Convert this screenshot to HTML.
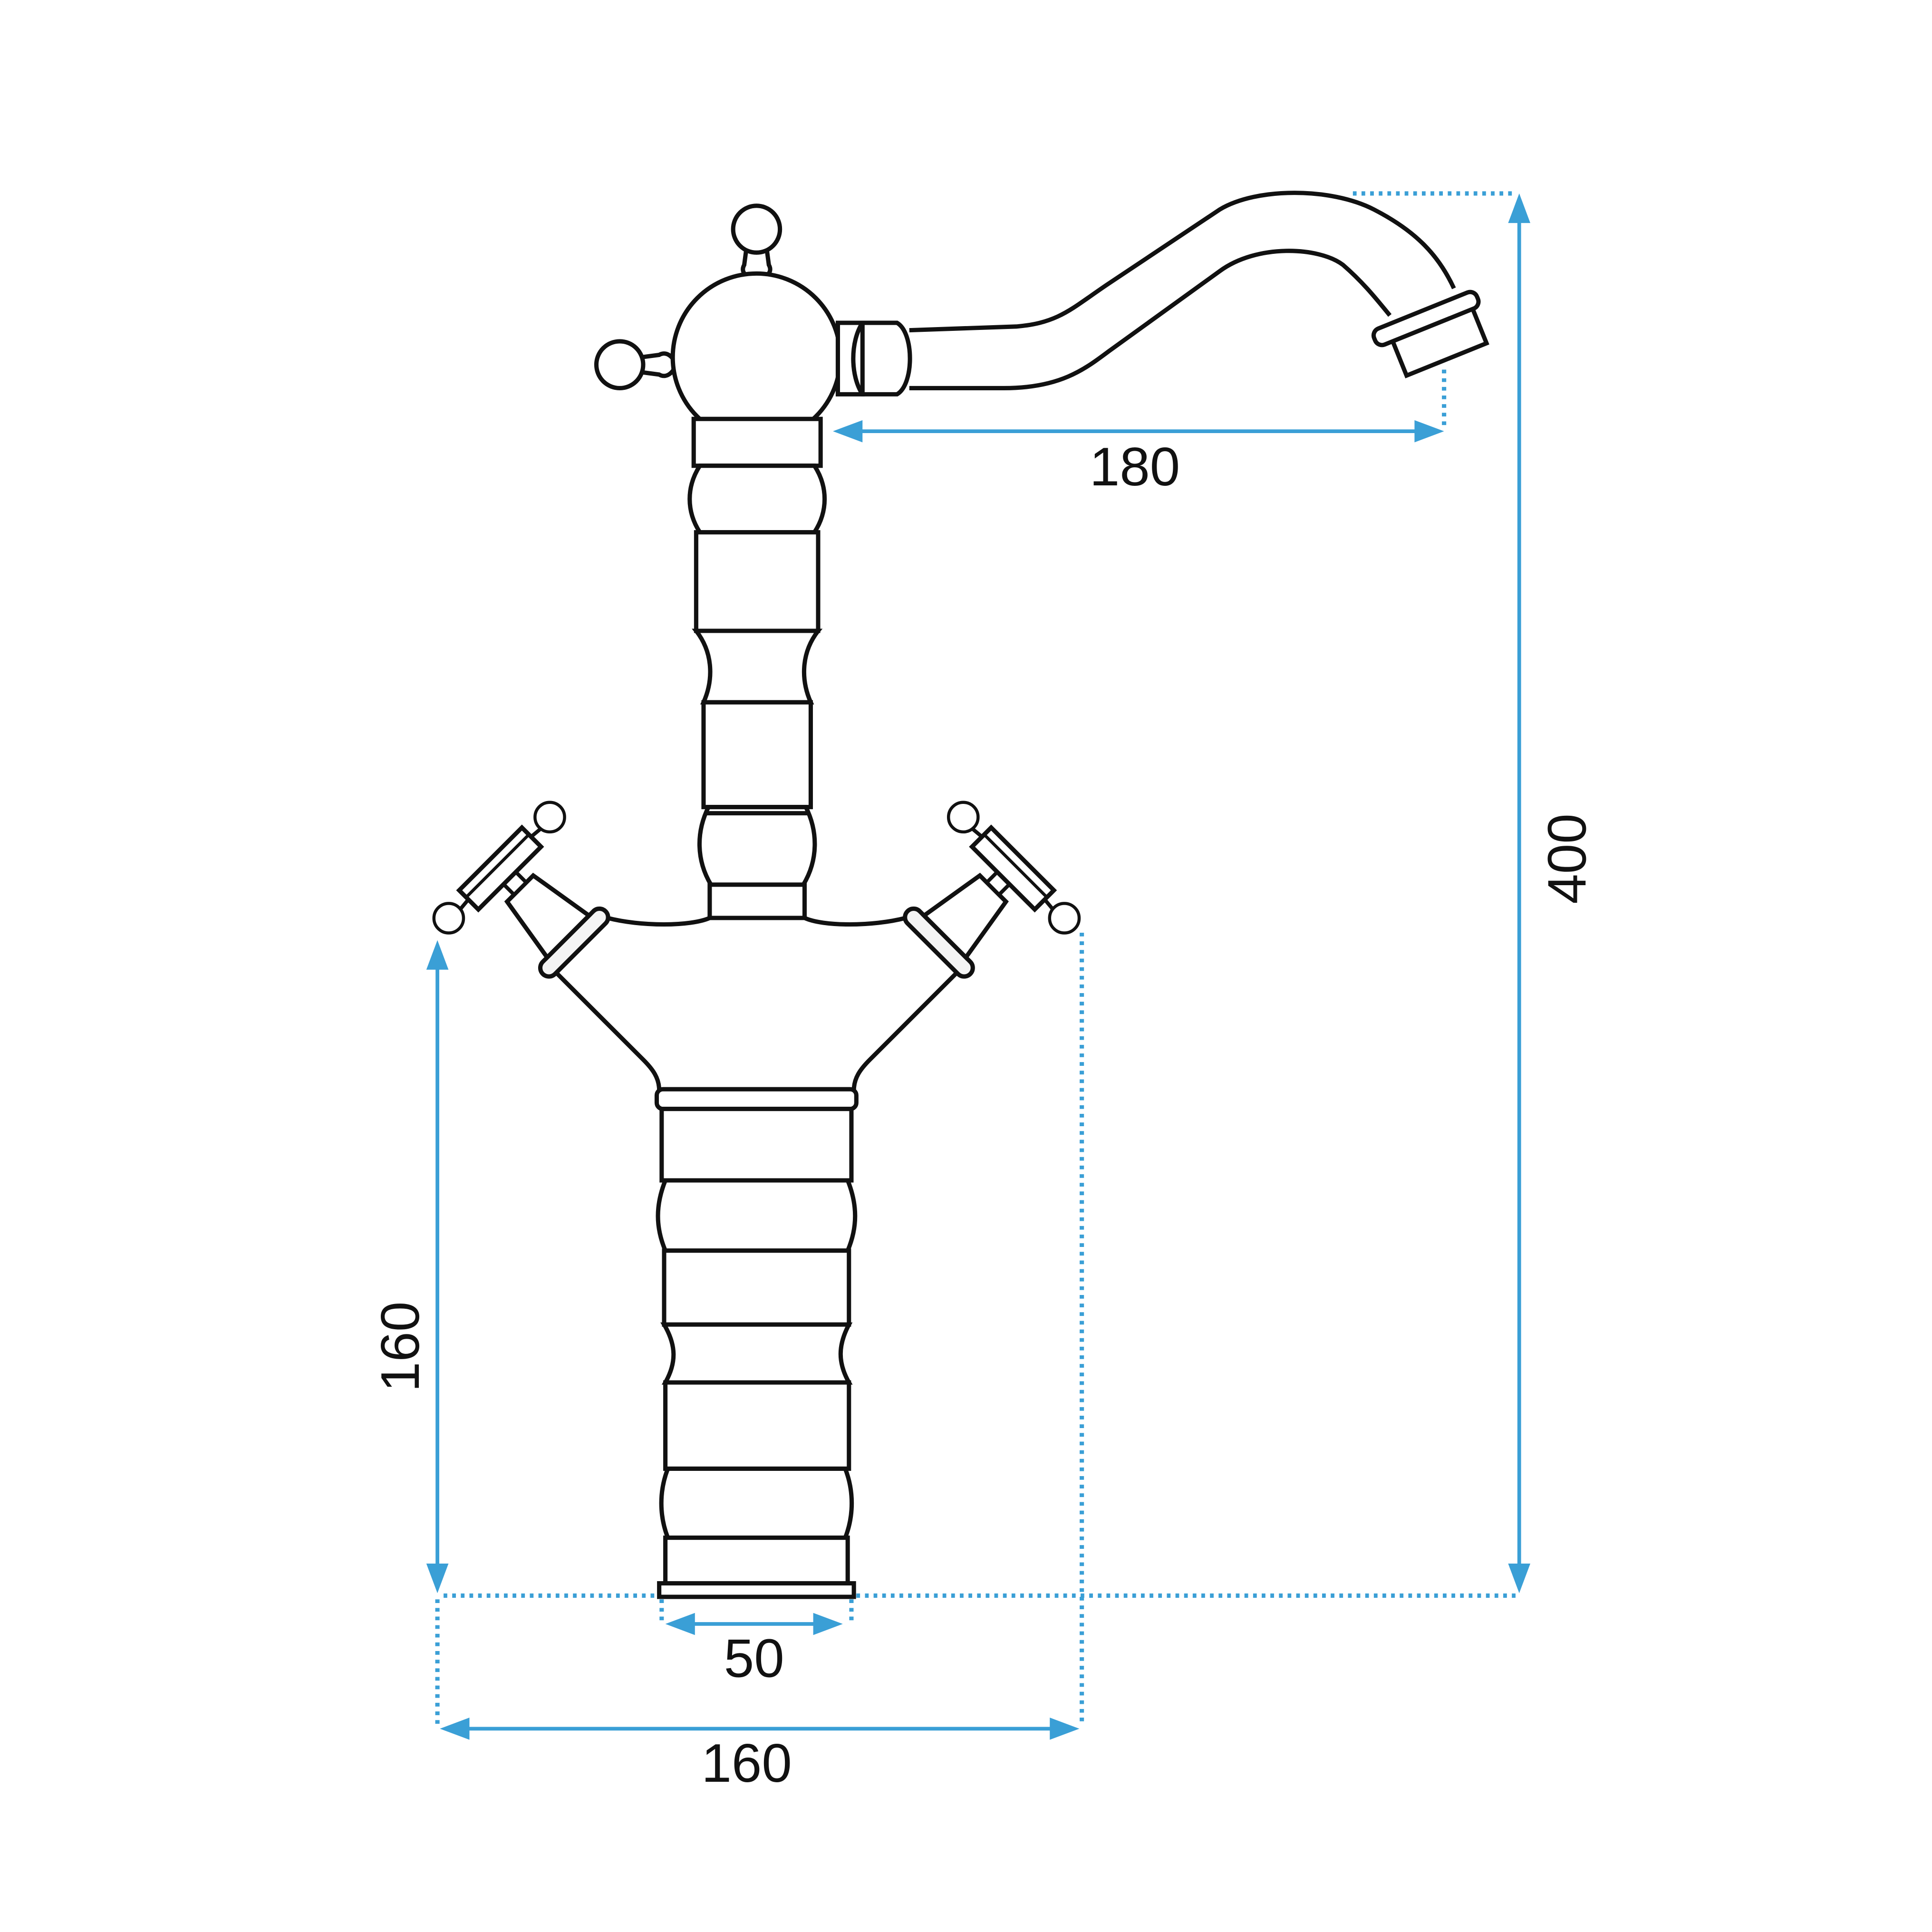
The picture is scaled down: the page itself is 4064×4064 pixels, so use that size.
<!DOCTYPE html>
<html><head><meta charset="utf-8"><style>
html,body{margin:0;padding:0;background:#fff;}
svg{display:block;}
</style></head><body>
<svg width="4064" height="4064" viewBox="0 0 1568 1568" xmlns="http://www.w3.org/2000/svg">
<rect width="1568" height="1568" fill="#fff"/>
<defs>
<g id="valve">
  <rect x="-36" y="-7" width="72" height="14" rx="7" fill="#f4f4f4" stroke="#111" stroke-width="3.5"/>
  <polygon points="-24,-7 24,-7 15,-62 -15,-62" fill="#fff" stroke="#111" stroke-width="3.5"/>
  <rect x="-7" y="-74" width="14" height="12" fill="#fff" stroke="#111" stroke-width="3"/>
  <path d="M-52,-84 L-30,-86 M52,-84 L30,-86" stroke="#111" stroke-width="3" fill="none"/>
  <circle cx="-58" cy="-86" r="12" fill="#fff" stroke="#111" stroke-width="2.5"/>
  <circle cx="58" cy="-86" r="12" fill="#fff" stroke="#111" stroke-width="2.5"/>
  <rect x="-36" y="-96" width="72" height="22" fill="#fff" stroke="#111" stroke-width="3.5"/>
  <line x1="-36" y1="-88" x2="36" y2="-88" stroke="#111" stroke-width="2.5"/>
</g>
</defs>

<!-- spout -->
<g fill="none" stroke="#111" stroke-width="3.5">
<path d="M738,268 L825,265 C860,262 870,250 900,230 L990,170 C1020,152 1080,152 1115,170 C1150,188 1168,208 1180,234"/>
<path d="M738,315 L815,315 C860,315 880,300 900,285 L990,220 C1020,198 1070,200 1090,215 C1105,228 1115,240 1128,256"/>
</g>
<g transform="translate(1160,265) rotate(-22)" stroke="#111" stroke-width="3.5" fill="#fff">
  <rect x="-32" y="-4" width="70" height="34"/>
  <rect x="-45" y="-14" width="90" height="14" rx="6"/>
</g>

<!-- top knobs -->
<g stroke="#111" stroke-width="3.5" fill="#fff">
  <path d="M606,200 L604,215 C600,222 608,226 614,226 C620,226 628,222 624,215 L622,200 Z"/>
  <circle cx="614" cy="186" r="19"/>
  <path d="M520,290 L535,288 C542,284 548,292 548,296 C548,300 542,308 535,304 L520,302 Z"/>
  <circle cx="503" cy="296" r="19"/>
  <circle cx="614" cy="290" r="68"/>
  <rect x="680" y="262" width="20" height="58"/>
  <path d="M700,262 L728,262 C742,270 742,312 728,320 L700,320 C690,305 690,277 700,262 Z"/>
  <line x1="700" y1="262" x2="700" y2="320"/>
</g>

<!-- column -->
<g stroke="#111" stroke-width="3.5" fill="#fff">
  <rect x="563" y="340" width="103" height="38"/>
  <path d="M568,378 L661,378 C672,395 672,415 661,432 L568,432 C557,415 557,395 568,378 Z"/>
  <rect x="565" y="432" width="99" height="80"/>
  <path d="M565,512 L664,512 C650,530 650,552 658,570 L571,570 C579,552 579,530 565,512 Z"/>
  <rect x="571" y="570" width="87" height="85"/>
  <path d="M575,655 L654,655 C664,675 664,698 652,718 L577,718 C565,698 565,675 575,655 Z"/>
  <rect x="576" y="718" width="77" height="27"/>
  <line x1="573" y1="660" x2="656" y2="660"/>
</g>

<!-- body -->
<g stroke="#111" stroke-width="3.5" fill="none">
  <path d="M493,745 C520,752 560,752 576,745"/>
  <path d="M735,745 C708,752 668,752 653,745"/>
  <path d="M452,790 L522,860 C530,868 535,875 535,885"/>
  <path d="M776,790 L706,860 C698,868 693,875 693,885"/>
</g>
<use href="#valve" transform="translate(466,765) rotate(-45)"/>
<use href="#valve" transform="translate(762,765) rotate(45) scale(-1,1)"/>

<!-- lower body -->
<g stroke="#111" stroke-width="3.5" fill="#fff">
  <rect x="533" y="884" width="162" height="16" rx="5"/>
  <rect x="537" y="900" width="154" height="58"/>
  <path d="M540,958 L688,958 C696,978 696,996 688,1015 L540,1015 C532,996 532,978 540,958 Z"/>
  <rect x="539" y="1015" width="150" height="60"/>
  <path d="M539,1075 L689,1075 C680,1092 680,1106 689,1122 L540,1122 C549,1106 549,1092 539,1075 Z"/>
  <rect x="540" y="1122" width="149" height="70"/>
  <path d="M542,1192 L686,1192 C693,1210 693,1230 686,1248 L542,1248 C535,1230 535,1210 542,1192 Z"/>
  <rect x="540" y="1248" width="148" height="37"/>
  <rect x="535" y="1285" width="158" height="11"/>
</g>

<!-- dimensions -->
<g stroke="#3a9fd6" stroke-width="3" fill="none">
  <line x1="690" y1="350" x2="1158" y2="350"/>
  <line x1="1233" y1="172" x2="1233" y2="1278"/>
  <line x1="355" y1="778" x2="355" y2="1278"/>
  <line x1="372" y1="1403" x2="860" y2="1403"/>
  <line x1="556" y1="1318" x2="668" y2="1318"/>
</g>
<g stroke="#3a9fd6" stroke-width="3.5" fill="none" stroke-dasharray="3 4">
  <line x1="1172" y1="300" x2="1172" y2="345"/>
  <line x1="1098" y1="157" x2="1228" y2="157"/>
  <line x1="360" y1="1295" x2="535" y2="1295"/>
  <line x1="695" y1="1295" x2="1230" y2="1295"/>
  <line x1="878" y1="757" x2="878" y2="1400"/>
  <line x1="355" y1="1298" x2="355" y2="1400"/>
  <line x1="537" y1="1298" x2="537" y2="1316"/>
  <line x1="691" y1="1298" x2="691" y2="1316"/>
</g>
<g fill="#3a9fd6">
  <polygon points="676,350 700,341 700,359"/>
  <polygon points="1172,350 1148,341 1148,359"/>
  <polygon points="1233,157 1224,181 1242,181"/>
  <polygon points="1233,1293 1224,1269 1242,1269"/>
  <polygon points="355,763 346,787 364,787"/>
  <polygon points="355,1293 346,1269 364,1269"/>
  <polygon points="357,1403 381,1394 381,1412"/>
  <polygon points="876,1403 852,1394 852,1412"/>
  <polygon points="540,1318 564,1309 564,1327"/>
  <polygon points="684,1318 660,1309 660,1327"/>
</g>
<g font-family="'Liberation Sans','DejaVu Sans',sans-serif" font-size="44" fill="#111">
  <text x="921" y="394" text-anchor="middle">180</text>
  <text x="612" y="1361" text-anchor="middle">50</text>
  <text x="606" y="1446" text-anchor="middle">160</text>
  <text transform="translate(1287,697) rotate(-90)" text-anchor="middle">400</text>
  <text transform="translate(340,1093) rotate(-90)" text-anchor="middle">160</text>
</g>
</svg>
</body></html>
